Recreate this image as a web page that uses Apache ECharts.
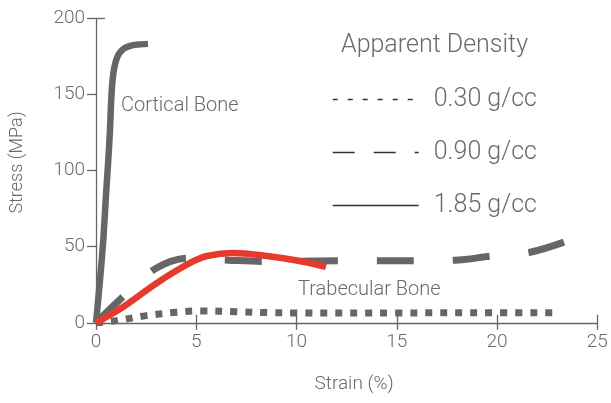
<!DOCTYPE html>
<html>
<head>
<meta charset="utf-8">
<script src="https://cdn.jsdelivr.net/npm/echarts@6/dist/echarts.min.js"></script>
<style>
  html, body { margin: 0; padding: 0; background: #fff; }
  #chart { width: 611px; height: 403px; }
</style>
</head>
<body>
<div id="chart"></div>
<script>
// Stress-strain curves for bone (strain in %, stress in MPa)
const corticalStrain = [0, 0.2, 0.364, 0.499, 0.613, 0.698, 0.748, 0.788, 0.838, 0.913, 1.012, 1.147, 1.322, 1.546, 1.796, 2.095, 2.594];
const corticalStress = [0, 28.1, 54.4, 84.0, 107.0, 126.8, 143.2, 153.1, 161.0, 167.5, 172.8, 176.7, 179.4, 181.1, 182.2, 182.8, 183.2];

const lowStrain = [0, 1.0, 2.5, 4.0, 5.2, 7.0, 8.6, 10, 15, 20, 23.1];
const lowStress = [0, 1.4, 4.7, 6.9, 7.8, 7.3, 6.7, 6.5, 6.5, 6.6, 6.6];

const midStrain = [0, 1.45, 3.0, 4.6, 6.6, 8.4, 11, 14, 16, 17.9, 19.7, 21.6, 23.4];
const midStress = [0, 18.3, 35.8, 42.4, 41.1, 40.3, 40.6, 40.8, 40.8, 41.1, 43.8, 46.2, 53.3];

const redStrain = [0, 1.35, 3.04, 4.69, 5.54, 6.83, 8.53, 10.17, 11.47];
const redStress = [0, 10.4, 26.2, 39.3, 43.9, 45.9, 43.9, 40.6, 36.7];

const xTicks = [0, 5, 10, 15, 20, 25];
const yTicks = [0, 50, 100, 150, 200];

const densityLabels = ['0.30 g/cc', '0.90 g/cc', '1.85 g/cc'];

const pairs = (xs, ys) => xs.map((x, i) => [x, ys[i]]);

const FONT = 'Roboto, "Liberation Sans", sans-serif';
const TEXT = '#6a6a6a';
const AXIS = '#666666';
const GRAY = '#666666';

const chart = echarts.init(document.getElementById('chart'), null, { renderer: 'canvas' });

chart.setOption({
  backgroundColor: '#ffffff',
  animation: false,
  textStyle: { fontFamily: FONT, fontWeight: 300 },
  title: {
    text: 'Apparent Density',
    left: 341, top: 33, padding: 0,
    textStyle: { fontFamily: FONT, fontWeight: 300, fontSize: 25, color: TEXT }
  },
  legend: {
    orient: 'vertical',
    left: 332, top: 87, padding: 0,
    itemWidth: 86, itemHeight: 20, itemGap: 28,
    selectedMode: false,
    textStyle: { fontFamily: FONT, fontWeight: 300, fontSize: 25, color: TEXT, padding: [0, 0, 0, 10], lineHeight: 20 },
    data: [
      { name: densityLabels[0], itemStyle: { opacity: 0 }, lineStyle: { color: '#333', width: 1.4, type: [5, 10] } },
      { name: densityLabels[1], itemStyle: { opacity: 0 }, lineStyle: { color: '#333', width: 1.4, type: [22, 19] } },
      { name: densityLabels[2], itemStyle: { opacity: 0 }, lineStyle: { color: '#333', width: 1.4, type: 'solid' } }
    ]
  },
  grid: { left: 96, right: 13.7, top: 18.3, bottom: 80.2, containLabel: false },
  xAxis: [
    {
      type: 'value', min: xTicks[0], max: xTicks[xTicks.length - 1], interval: 5,
      name: 'Strain (%)', nameLocation: 'middle', nameGap: 52,
      nameTextStyle: { fontFamily: FONT, fontWeight: 300, fontSize: 19, color: TEXT, padding: [0, 0, 0, 15] },
      axisLine: { show: true, lineStyle: { color: AXIS, width: 1.3 } },
      axisTick: { show: true, length: 7, lineStyle: { color: AXIS, width: 1.3 } },
      axisLabel: { fontFamily: FONT, fontWeight: 300, fontSize: 19, color: TEXT, margin: 10 },
      splitLine: { show: false }
    },
    {
      type: 'value', min: xTicks[0], max: xTicks[xTicks.length - 1], interval: 5,
      position: 'bottom',
      axisLine: { show: false },
      axisTick: { show: true, inside: true, length: 8, lineStyle: { color: AXIS, width: 1.3 } },
      axisLabel: { show: false },
      splitLine: { show: false }
    }
  ],
  yAxis: [
    {
      type: 'value', min: yTicks[0], max: yTicks[yTicks.length - 1], interval: 50,
      name: 'Stress (MPa)', nameLocation: 'middle', nameGap: 70,
      nameTextStyle: { fontFamily: FONT, fontWeight: 300, fontSize: 18, color: TEXT, padding: [0, 0, 0, 16] },
      axisLine: { show: true, lineStyle: { color: AXIS, width: 1.3 } },
      axisTick: { show: true, length: 9, lineStyle: { color: AXIS, width: 1.3 } },
      axisLabel: { fontFamily: FONT, fontWeight: 300, fontSize: 19, color: TEXT, margin: 11 },
      splitLine: { show: false }
    },
    {
      type: 'value', min: yTicks[0], max: yTicks[yTicks.length - 1], interval: 200,
      position: 'left',
      axisLine: { show: false },
      axisTick: { show: true, inside: true, length: 9, lineStyle: { color: AXIS, width: 1.3 } },
      axisLabel: { show: false },
      splitLine: { show: false }
    }
  ],
  graphic: [
    {
      type: 'text', left: 121, top: 96, silent: true,
      style: { text: 'Cortical Bone', fontFamily: FONT, fontWeight: 300, fontSize: 20, fill: TEXT }
    },
    {
      type: 'text', left: 298, top: 280, silent: true,
      style: { text: 'Trabecular Bone', fontFamily: FONT, fontWeight: 300, fontSize: 20, fill: TEXT }
    }
  ],
  series: [
    {
      name: densityLabels[0], type: 'line', symbol: 'none', smooth: 0.35,
      data: pairs(lowStrain, lowStress),
      lineStyle: { color: GRAY, width: 7, type: [7, 8], cap: 'butt' },
      itemStyle: { color: GRAY }, z: 2
    },
    {
      name: densityLabels[1], type: 'line', symbol: 'none', smooth: 0.35,
      data: pairs(midStrain, midStress),
      lineStyle: { color: GRAY, width: 7, type: [37, 39], cap: 'butt' },
      itemStyle: { color: GRAY }, z: 3
    },
    {
      name: densityLabels[2], type: 'line', symbol: 'none', smooth: 0.25,
      data: pairs(corticalStrain, corticalStress),
      lineStyle: { color: GRAY, width: 6.5, cap: 'butt', join: 'round' },
      itemStyle: { color: GRAY }, z: 4
    },
    {
      name: 'trabecular', type: 'line', symbol: 'none', smooth: 0.35,
      data: pairs(redStrain, redStress),
      lineStyle: { color: '#e8392f', width: 6.5, cap: 'butt' },
      itemStyle: { color: '#e8392f' }, z: 5
    }
  ]
});
</script>
</body>
</html>
